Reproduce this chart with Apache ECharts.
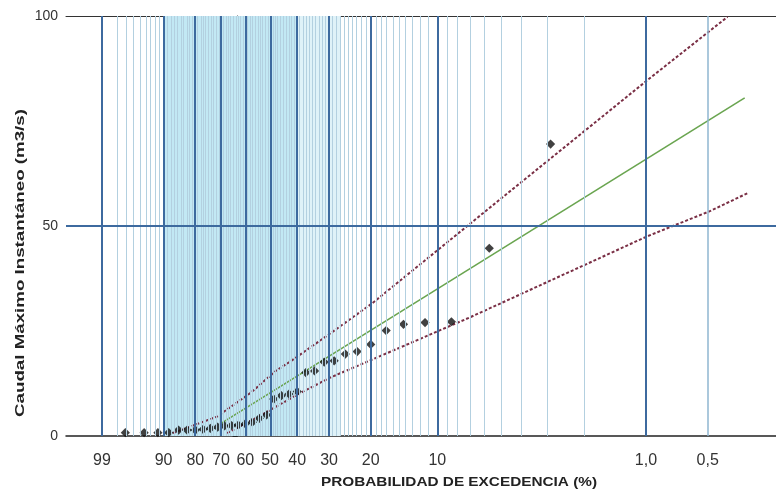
<!DOCTYPE html>
<html>
<head>
<meta charset="utf-8">
<script src="https://cdn.jsdelivr.net/npm/echarts@6/dist/echarts.min.js"></script>
<style>html,body{margin:0;padding:0;background:#fff}#c{width:776px;height:493px}</style>
</head>
<body>
<div id="c"></div>
<script>
// Exceedance probabilities (%) of the observed annual maxima and their flows (m3/s)
const obsProb = [2.9, 5.7, 8.6, 11.4, 14.3, 17.1, 20.0, 22.9, 25.7, 28.6, 31.4, 34.3, 37.1, 40.0, 42.9, 45.7, 48.6,
                 51.4, 54.3, 57.1, 60.0, 62.9, 65.7, 68.6, 71.4, 74.3, 77.1, 80.0, 82.9, 85.7, 88.6, 91.4, 94.3, 97.1];
const obsQ    = [69.5, 44.7, 27.2, 27.0, 26.6, 25.1, 21.8, 20.1, 19.5, 17.9, 17.6, 15.5, 15.1, 10.6, 10.0, 9.6, 8.8,
                 5.0, 4.2, 3.3, 2.9, 2.6, 2.5, 2.4, 2.1, 1.8, 1.6, 1.4, 1.4, 1.4, 0.8, 0.8, 0.8, 0.8];
// Fitted Gumbel line
const fitProb = [70, 0.33];
const fitQ    = [3.0, 80.5];
// Upper confidence limit
const upperProb = [87.4, 71.7, 58.0, 47.4, 42.5, 29.7, 19.7, 5.05, 0.98, 0.40];
const upperQ    = [0.7, 4.6, 10.2, 15.7, 17.7, 24.4, 31.6, 56.4, 84.8, 99.8];
// Lower confidence limit
const lowerProb = [67.5, 54.0, 39.6, 29.7, 19.7, 9.9, 7.0, 0.99, 0.485, 0.32];
const lowerQ    = [0.7, 4.8, 10.0, 13.9, 18.2, 25.0, 28.3, 47.5, 53.6, 57.8];
// Axis ticks
const tickProbs  = [99, 90, 80, 70, 60, 50, 40, 30, 20, 10, 1, 0.5];
const tickLabels = ['99', '90', '80', '70', '60', '50', '40', '30', '20', '10', '1,0', '0,5'];
const majorProbs = [99, 90, 80, 70, 60, 50, 40, 30, 20, 10, 1];
const lightMajorProbs = [0.5];
const minorProbs = [98, 97, 96, 95, 94, 93, 92, 91, 89, 88, 87, 86, 85, 84, 83, 82, 81,
                    79, 78, 77, 76, 75, 74, 73, 72, 71, 69, 68, 67, 66, 65, 64, 63, 62, 61,
                    59, 58, 57, 56, 55, 54, 53, 52, 51, 49, 48, 47, 46, 45, 44, 43, 42, 41,
                    39, 38, 37, 36, 35, 34, 33, 32, 31, 29, 28, 27, 26, 25, 24, 23, 22, 21,
                    19, 18, 17, 16, 15, 14, 13, 12, 11, 9, 8, 7, 6, 5, 4, 3, 2];
const bandStrong = [90, 40];
const bandLight = [40, 27];
const xRangeProb = [99.9, 0.232];
const yTicks = [0, 50, 100];

// Gumbel reduced variate of an exceedance probability (%)
const g = p => -Math.log(-Math.log(1 - p / 100));
const pairs = (ps, qs) => ps.map((p, i) => [g(p), qs[i]]);

const majorColor = '#3d6a9f';
const FONT = '"Liberation Sans", Arial, sans-serif';
const chart = echarts.init(document.getElementById('c'));
const xCommon = { type: 'value', min: g(xRangeProb[0]), max: g(xRangeProb[1]), splitLine: { show: false } };

chart.setOption({
  animation: false,
  grid: { left: 66, right: 0, top: 16, bottom: 57 },
  xAxis: [
    Object.assign({}, xCommon, {
      position: 'bottom',
      axisLine: { show: true, onZero: false, lineStyle: { color: '#222', width: 1.5 } },
      axisTick: { show: false },
      axisLabel: {
        customValues: tickProbs.map(g),
        fontFamily: FONT, fontSize: 16, color: '#333', margin: 17,
        formatter: v => {
          for (let i = 0; i < tickProbs.length; i++) if (Math.abs(g(tickProbs[i]) - v) < 1e-3) return tickLabels[i];
          return '';
        }
      }
    }),
    Object.assign({}, xCommon, {
      position: 'top',
      axisLine: { show: true, onZero: false, lineStyle: { color: '#333', width: 1 } },
      axisTick: { show: false }, axisLabel: { show: false }
    })
  ],
  yAxis: {
    type: 'value', min: yTicks[0], max: yTicks[yTicks.length - 1], interval: 50,
    axisLine: { show: true, lineStyle: { color: '#222', width: 1 } },
    axisTick: { show: true, length: 5, lineStyle: { color: '#222' } },
    axisLabel: { fontFamily: FONT, fontSize: 14, color: '#333', margin: 8 },
    splitLine: { show: false }
  },
  graphic: [
    { type: 'text', x: 459, y: 482, scaleX: 1.18, silent: true,
      style: { text: 'PROBABILIDAD DE EXCEDENCIA (%)', fill: '#222', font: 'bold 13px ' + FONT,
               textAlign: 'center', textVerticalAlign: 'middle' } },
    { type: 'text', x: 20, y: 263, rotation: Math.PI / 2, scaleX: 1.44, silent: true,
      style: { text: 'Caudal Máximo Instantáneo (m3/s)', fill: '#222', font: 'bold 13px ' + FONT,
               textAlign: 'center', textVerticalAlign: 'middle' } }
  ],
  series: [
    { type: 'line', data: [], z: 0, silent: true,
      markArea: { silent: true, data: [
        [{ xAxis: g(bandStrong[0]), itemStyle: { color: '#c2e8f4' } }, { xAxis: g(bandStrong[1]) }],
        [{ xAxis: g(bandLight[0]), itemStyle: { color: '#dff2f8' } }, { xAxis: g(bandLight[1]) }]
      ] },
      markLine: { silent: true, symbol: 'none', label: { show: false },
        lineStyle: { color: '#b3d0e0', width: 1, type: 'solid' },
        data: minorProbs.map(p => ({ xAxis: g(p) })) } },
    { type: 'line', data: [], z: 1, silent: true,
      markLine: { silent: true, symbol: 'none', label: { show: false },
        lineStyle: { color: majorColor, width: 2, type: 'solid' },
        data: majorProbs.map(p => ({ xAxis: g(p) }))
          .concat(lightMajorProbs.map(p => ({ xAxis: g(p), lineStyle: { color: '#8fb6d0', width: 1.5 } })))
          .concat([{ yAxis: 50 }]) } },
    { name: 'Ajuste', type: 'line', data: pairs(fitProb, fitQ), z: 3, showSymbol: false, silent: true,
      lineStyle: { color: '#6aa550', width: 1.6 } },
    { name: 'Límite superior', type: 'line', data: pairs(upperProb, upperQ), z: 3, showSymbol: false, silent: true,
      lineStyle: { color: '#7a2f45', width: 2, type: [3, 2] } },
    { name: 'Límite inferior', type: 'line', data: pairs(lowerProb, lowerQ), z: 3, showSymbol: false, silent: true,
      lineStyle: { color: '#7a2f45', width: 2, type: [3, 2] } },
    { name: 'Observados', type: 'scatter', data: pairs(obsProb, obsQ), z: 4, symbol: 'rect', symbolRotate: 45, symbolSize: 6.5,
      itemStyle: { color: '#111' } }
  ]
});
</script>
</body>
</html>
